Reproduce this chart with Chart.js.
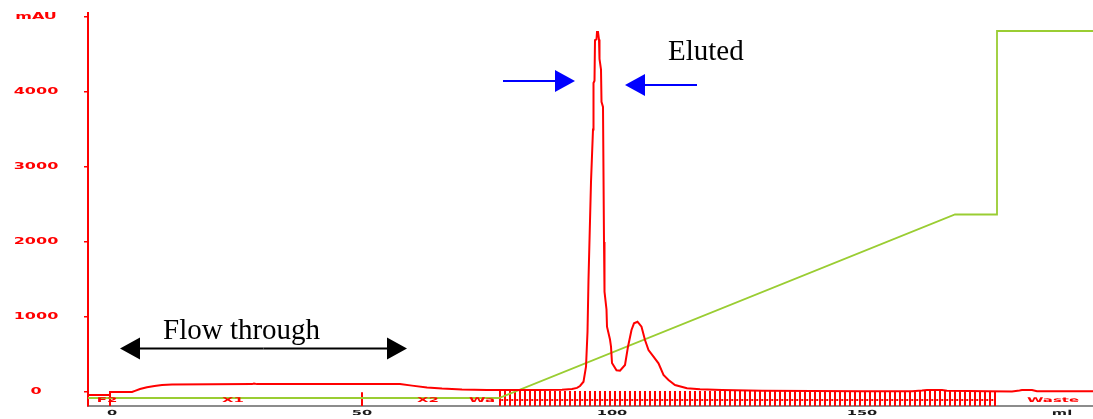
<!DOCTYPE html>
<html>
<head>
<meta charset="utf-8">
<script src="https://cdn.jsdelivr.net/npm/chart.js@4/dist/chart.umd.min.js"></script>
<style>
html,body{margin:0;padding:0;background:#fff;}
#wrap{width:1093px;height:419px;position:relative;}
</style>
</head>
<body>
<div id="wrap"><canvas id="c"></canvas></div>
<script>
// ---- data ----
const uvMl  = [-4.8,-0.4,-0.4,4,4.6,5.6,7,8.5,10,12,20,28,28.4,29,40,50,57.6,60,63,66,70,75,85,90,92,93,93.6,94.3,94.8,95.1,95.3,95.8,96.2,96.3,96.5,96.6,96.9,97.0,97.2,97.4,97.5,97.8,97.9,98.2,98.4,98.5,98.9,99.0,99.6,99.8,100.0,100.9,101.6,102.6,103.2,103.9,104.4,105.1,105.9,106.6,107.3,108.3,109.3,110.3,111.3,112.6,115,117.6,122,130,140,150,160,162,163,166,167,175,180,181.5,182,184,185,196.2];
const uvMau = [-40,-40,0,0,15,40,63,80,93,100,103,105,112,105,105,106,105,85,60,45,33,28,28,30,40,55,80,137,337,800,1500,2800,3500,4120,4150,4690,4700,4800,4800,4700,4440,4300,3870,3800,2000,1337,1100,870,700,604,387,290,284,360,604,827,916,937,870,693,560,471,382,227,160,93,49,36,28,18,12,10,10,20,28,28,18,10,8,20,25,25,10,10];

const gradMl  = [-4.8,77.4,168.6,177,177,196.2];
const gradPct = [0,0,50,50,100,100];

const injectMarks = [-0.4,50];
const fractionBounds = [77.6,78.6,79.6,80.6,81.6,82.6,83.6,84.6,85.6,86.6,87.6,88.6,89.6,90.6,91.6,92.6,93.6,94.6,95.6,96.6,97.6,98.6,99.6,100.6,101.6,102.6,103.6,104.6,105.6,106.6,107.6,108.6,109.6,110.6,111.6,112.6,113.6,114.6,115.6,116.6,117.6,118.6,119.6,120.6,121.6,122.6,123.6,124.6,125.6,126.6,127.6,128.6,129.6,130.6,131.6,132.6,133.6,134.6,135.6,136.6,137.6,138.6,139.6,140.6,141.6,142.6,143.6,144.6,145.6,146.6,147.6,148.6,149.6,150.6,151.6,152.6,153.6,154.6,155.6,156.6,157.6,158.6,159.6,160.6,161.6,162.6,163.6,164.6,165.6,166.6,167.6,168.6,169.6,170.6,171.6,172.6,173.6,174.6,175.6,176.6];
const fracLabels = ['F2','X1','X2','Wa','Waste'];
const fracLabelMl = [-1,24.2,63.2,74,188.2];

const yTickValues = [0,1000,2000,3000,4000,5000];
const yTickLabels = ['0','1000','2000','3000','4000','mAU'];
const xTickValues = [0,50,100,150,190];
const xTickLabels = ['0','50','100','150','ml'];

// annotations (data coordinates)
const elutedText = {text:'Eluted', ml:111.2, mau:4427};
const flowText = {text:'Flow through', ml:10.2, mau:707};
const blueArrows = [ {fromMl:78.2, toMl:92.6, mau:4147}, {fromMl:117, toMl:102.6, mau:4093} ];
const flowArrow = {fromMl:1.6, toMl:59, mau:580};

// ---- build datasets ----
const uvData = uvMl.map((x,i)=>({x:x,y:uvMau[i]}));
const gradData = gradMl.map((x,i)=>({x:x,y:gradPct[i]}));
const markData = [];
injectMarks.forEach(b=>{ markData.push({x:b,y:-200},{x:b,y:-5},{x:b,y:null}); });
fractionBounds.forEach((b,i)=>{
  markData.push({x:b,y:-200},{x:b,y:12},{x:b,y:null});
  if(i<fractionBounds.length-1){ markData.push({x:b+0.25,y:-107},{x:b+0.65,y:-107},{x:b+0.65,y:null}); }
});

function stretchText(ctx,text,x,y,sx,align){
  ctx.save(); ctx.translate(x,y); ctx.scale(sx,1); ctx.textAlign=align; ctx.textBaseline='middle'; ctx.fillText(text,0,0); ctx.restore();
}
function arrow(ctx,x1,y,x2,color){
  const dir = x2>x1?1:-1, hl=20, hh=11;
  ctx.save(); ctx.strokeStyle=color; ctx.fillStyle=color; ctx.lineWidth=2;
  ctx.beginPath(); ctx.moveTo(x1,y); ctx.lineTo(x2-dir*hl,y); ctx.stroke();
  ctx.beginPath(); ctx.moveTo(x2,y); ctx.lineTo(x2-dir*hl,y-hh); ctx.lineTo(x2-dir*hl,y+hh); ctx.closePath(); ctx.fill();
  ctx.restore();
}

const drawPlugin = {
  id:'drawPlugin',
  afterDraw(chart){
    const ctx=chart.ctx, xs=chart.scales.x, ys=chart.scales.y;
    ctx.save();
    // y tick labels
    ctx.fillStyle='#ff0000'; ctx.font='bold 8px "DejaVu Sans"';
    yTickValues.forEach((v,i)=>stretchText(ctx,yTickLabels[i],36,ys.getPixelForValue(v),2.0,'center'));
    // x tick labels
    ctx.fillStyle='#1a1a1a'; ctx.font='bold 7px "DejaVu Sans"';
    xTickValues.forEach((v,i)=>stretchText(ctx,xTickLabels[i],xs.getPixelForValue(v),413,2.1,'center'));
    // fraction labels
    ctx.fillStyle='#ff0000'; ctx.font='bold 6.5px "DejaVu Sans"';
    fracLabelMl.forEach((v,i)=>stretchText(ctx,fracLabels[i],xs.getPixelForValue(v),400,2.3,'center'));
    // annotations
    ctx.fillStyle='#000'; ctx.font='29px "Liberation Serif"'; ctx.textAlign='left'; ctx.textBaseline='alphabetic';
    ctx.fillText(elutedText.text, xs.getPixelForValue(elutedText.ml), ys.getPixelForValue(elutedText.mau));
    ctx.fillText(flowText.text, xs.getPixelForValue(flowText.ml), ys.getPixelForValue(flowText.mau));
    blueArrows.forEach(a=>arrow(ctx,xs.getPixelForValue(a.fromMl),ys.getPixelForValue(a.mau),xs.getPixelForValue(a.toMl),'#0000ff'));
    const fy=ys.getPixelForValue(flowArrow.mau), fx1=xs.getPixelForValue(flowArrow.fromMl), fx2=xs.getPixelForValue(flowArrow.toMl);
    const mid=(fx1+fx2)/2;
    arrow(ctx,mid,fy,fx1,'#000'); arrow(ctx,mid,fy,fx2,'#000');
    ctx.restore();
  }
};

new Chart(document.getElementById('c'),{
  type:'line',
  data:{datasets:[
    {label:'UV', data:uvData, borderColor:'#ff0000', borderWidth:2, pointRadius:0, tension:0, yAxisID:'y', order:1},
    {label:'Fractions', data:markData, borderColor:'#ff0000', borderWidth:2, pointRadius:0, spanGaps:false, yAxisID:'y', order:3},
    {label:'%B', data:gradData, borderColor:'#9acd32', borderWidth:1.8, pointRadius:0, tension:0, yAxisID:'y2', order:2}
  ]},
  options:{
    responsive:true, maintainAspectRatio:false, animation:false,
    layout:{padding:{top:13,left:0,right:0,bottom:0}},
    plugins:{legend:{display:false}, tooltip:{enabled:false}},
    scales:{
      x:{type:'linear', min:-4.8, max:196.2,
         afterBuildTicks:s=>{s.ticks=xTickValues.map(v=>({value:v}));},
         afterFit:s=>{s.height=13;},
         ticks:{display:false},
         grid:{display:false},
         border:{display:true,color:'#8c8c8c',width:2}},
      y:{type:'linear', min:-186.7, max:5053,
         afterBuildTicks:s=>{s.ticks=yTickValues.map(v=>({value:v}));},
         afterFit:s=>{s.width=88;},
         ticks:{display:false},
         grid:{drawOnChartArea:false, drawTicks:true, tickLength:4, color:'#ff0000', lineWidth:1.5},
         border:{display:true,color:'#ff0000',width:2}},
      y2:{type:'linear', display:false, min:-2.18, max:104.9}
    }
  },
  plugins:[drawPlugin]
});
</script>
</body>
</html>
